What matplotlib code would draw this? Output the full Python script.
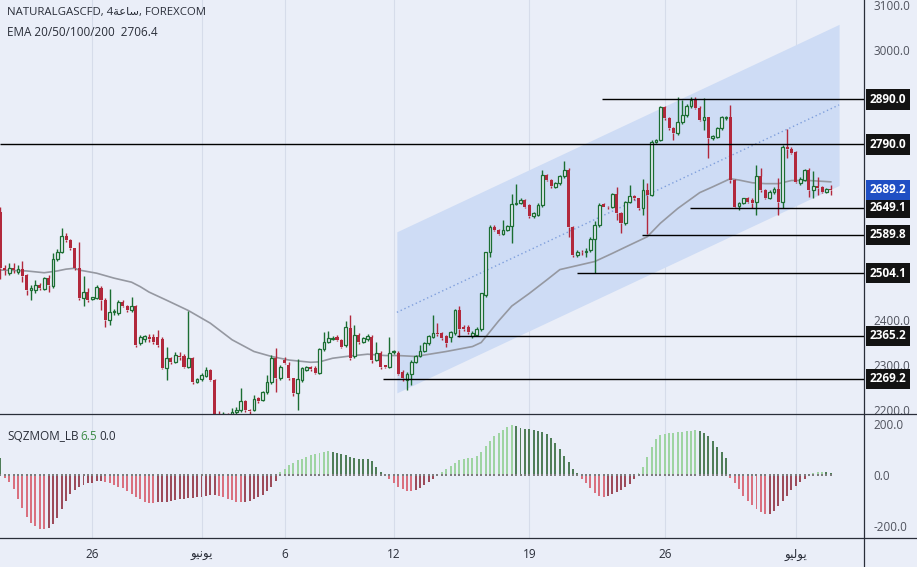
import matplotlib
matplotlib.use("Agg")
import matplotlib.pyplot as plt
import numpy as np
from matplotlib.lines import Line2D

plt.rcParams["font.family"] = ["Open Sans", "DejaVu Sans"]

# ---------------------------------------------------------------------------
# Data (4h candles)
# ---------------------------------------------------------------------------
opens = [2640, 2515, 2505, 2515, 2507, 2513, 2500, 2467, 2467, 2478,
         2469, 2493, 2476, 2535, 2552, 2587, 2578, 2559, 2515, 2448,
         2463, 2446, 2448, 2470, 2444, 2400, 2417, 2415, 2441, 2432,
         2422, 2431, 2348, 2357, 2362, 2363, 2362, 2358, 2293, 2315,
         2307, 2320, 2320, 2296, 2316, 2263, 2268, 2276, 2289, 2267,
         2192, 2186, 2190, 2184, 2196, 2200, 2219, 2200, 2200, 2226,
         2222, 2239, 2263, 2315, 2270, 2311, 2300, 2270, 2237, 2267,
         2289, 2295, 2293, 2283, 2335, 2352, 2357, 2363, 2356, 2344,
         2382, 2319, 2367, 2352, 2357, 2363, 2311, 2326, 2299, 2296,
         2328, 2326, 2285, 2267, 2281, 2307, 2320, 2330, 2348, 2363,
         2372, 2370, 2364, 2363, 2370, 2422, 2384, 2385, 2364, 2367,
         2379, 2456, 2550, 2607, 2600, 2591, 2600, 2609, 2658, 2661,
         2666, 2655, 2630, 2633, 2656, 2722, 2711, 2696, 2704, 2719,
         2733, 2607, 2545, 2552, 2550, 2556, 2581, 2611, 2658, 2652,
         2650, 2681, 2637, 2615, 2663, 2676, 2670, 2648, 2689, 2678,
         2796, 2800, 2874, 2848, 2826, 2815, 2840, 2856, 2876, 2889,
         2872, 2845, 2850, 2804, 2807, 2826, 2848, 2850, 2711, 2653,
         2661, 2670, 2667, 2663, 2720, 2689, 2672, 2685, 2692, 2663,
         2785, 2781, 2774, 2704, 2711, 2733, 2689, 2698, 2695, 2685,
         2692]
highs = [2650, 2522, 2527, 2527, 2522, 2530, 2503, 2478, 2489, 2482,
         2495, 2500, 2548, 2557, 2605, 2593, 2580, 2560, 2574, 2498,
         2470, 2452, 2478, 2475, 2448, 2468, 2425, 2444, 2445, 2434,
         2450, 2433, 2366, 2367, 2368, 2368, 2378, 2362, 2341, 2318,
         2328, 2328, 2325, 2419, 2318, 2270, 2282, 2296, 2291, 2268,
         2198, 2195, 2194, 2204, 2206, 2249, 2222, 2203, 2233, 2228,
         2242, 2278, 2322, 2337, 2300, 2318, 2306, 2272, 2313, 2296,
         2298, 2297, 2297, 2337, 2374, 2376, 2365, 2366, 2358, 2398,
         2411, 2389, 2370, 2363, 2368, 2366, 2350, 2330, 2301, 2363,
         2333, 2330, 2288, 2285, 2310, 2322, 2345, 2350, 2367, 2411,
         2393, 2374, 2366, 2376, 2424, 2431, 2388, 2388, 2375, 2384,
         2461, 2552, 2611, 2610, 2602, 2622, 2612, 2681, 2702, 2670,
         2669, 2657, 2640, 2660, 2733, 2724, 2713, 2707, 2722, 2754,
         2737, 2609, 2556, 2556, 2560, 2585, 2619, 2660, 2661, 2654,
         2683, 2696, 2640, 2665, 2700, 2678, 2672, 2713, 2704, 2800,
         2803, 2876, 2876, 2850, 2829, 2896, 2889, 2880, 2896, 2896,
         2876, 2893, 2852, 2812, 2829, 2853, 2853, 2878, 2713, 2663,
         2672, 2674, 2670, 2744, 2737, 2692, 2688, 2696, 2715, 2789,
         2824, 2784, 2776, 2718, 2735, 2737, 2730, 2717, 2698, 2693,
         2700]
lows = [2490, 2500, 2500, 2504, 2503, 2485, 2456, 2444, 2460, 2466,
        2466, 2463, 2470, 2530, 2548, 2574, 2556, 2512, 2444, 2430,
        2440, 2444, 2446, 2422, 2385, 2389, 2410, 2412, 2428, 2418,
        2418, 2340, 2345, 2352, 2352, 2346, 2341, 2290, 2267, 2303,
        2305, 2310, 2293, 2293, 2258, 2260, 2265, 2274, 2265, 2180,
        2180, 2178, 2176, 2180, 2190, 2195, 2195, 2190, 2197, 2216,
        2220, 2236, 2258, 2241, 2266, 2302, 2266, 2232, 2200, 2263,
        2286, 2287, 2280, 2280, 2330, 2348, 2355, 2353, 2338, 2340,
        2312, 2315, 2346, 2348, 2354, 2304, 2308, 2292, 2293, 2293,
        2325, 2278, 2265, 2244, 2256, 2305, 2318, 2328, 2345, 2360,
        2365, 2355, 2340, 2350, 2367, 2362, 2375, 2368, 2360, 2364,
        2376, 2452, 2540, 2597, 2588, 2589, 2598, 2572, 2655, 2657,
        2649, 2627, 2627, 2630, 2652, 2708, 2694, 2694, 2700, 2716,
        2585, 2540, 2541, 2544, 2540, 2552, 2504, 2607, 2650, 2647,
        2648, 2622, 2593, 2612, 2660, 2667, 2644, 2633, 2590, 2675,
        2793, 2798, 2845, 2822, 2801, 2812, 2835, 2852, 2872, 2868,
        2842, 2822, 2761, 2800, 2804, 2822, 2845, 2705, 2648, 2645,
        2658, 2660, 2648, 2633, 2685, 2668, 2669, 2681, 2633, 2648,
        2760, 2768, 2704, 2700, 2708, 2674, 2670, 2678, 2682, 2683,
        2678]
closes = [2515, 2512, 2516, 2510, 2514, 2498, 2467, 2471, 2478, 2470,
          2493, 2478, 2535, 2552, 2587, 2578, 2559, 2515, 2448, 2463,
          2444, 2450, 2473, 2444, 2400, 2417, 2419, 2441, 2431, 2422,
          2431, 2345, 2362, 2364, 2358, 2350, 2344, 2293, 2315, 2307,
          2322, 2318, 2296, 2315, 2263, 2268, 2278, 2289, 2267, 2190,
          2186, 2190, 2184, 2196, 2200, 2219, 2200, 2197, 2224, 2219,
          2239, 2263, 2315, 2270, 2296, 2305, 2270, 2237, 2268, 2293,
          2295, 2290, 2283, 2335, 2352, 2359, 2361, 2356, 2341, 2385,
          2315, 2367, 2350, 2359, 2364, 2311, 2326, 2296, 2296, 2326,
          2330, 2281, 2270, 2281, 2307, 2320, 2332, 2348, 2364, 2372,
          2369, 2359, 2348, 2374, 2422, 2381, 2379, 2374, 2372, 2381,
          2459, 2550, 2607, 2600, 2591, 2600, 2609, 2658, 2661, 2666,
          2652, 2630, 2638, 2656, 2722, 2711, 2698, 2704, 2719, 2733,
          2607, 2545, 2552, 2550, 2553, 2581, 2611, 2656, 2652, 2650,
          2681, 2637, 2615, 2663, 2675, 2670, 2648, 2689, 2678, 2796,
          2800, 2874, 2848, 2826, 2815, 2840, 2856, 2876, 2889, 2872,
          2845, 2852, 2804, 2809, 2826, 2850, 2851, 2711, 2652, 2661,
          2670, 2663, 2659, 2720, 2689, 2672, 2685, 2690, 2663, 2785,
          2781, 2772, 2707, 2713, 2733, 2689, 2698, 2693, 2685, 2690,
          2689.2]

# EMA line, read at a set of bars
ema_bar = [0, 6, 10, 13, 15, 17, 18, 22, 26, 30, 32, 34, 38, 43, 48, 53, 58,
           62, 66, 71, 73, 76, 80, 84, 88, 91, 95, 102, 108, 110, 114, 117,
           121, 125, 128, 132, 136, 140, 143, 148, 151, 155, 160, 163, 167,
           169, 172, 175, 178, 181, 185, 190]
ema_val = [2511, 2509, 2505, 2509, 2513, 2515, 2511, 2504, 2493, 2484, 2474,
           2462, 2444, 2421, 2393, 2356, 2330, 2319, 2311, 2306, 2307, 2315,
           2320, 2324, 2321, 2321, 2319, 2330, 2341, 2350, 2398, 2431, 2459,
           2489, 2512, 2521, 2530, 2548, 2562, 2585, 2615, 2648, 2683, 2696,
           2714, 2711, 2705, 2703, 2703, 2710, 2710, 2707]

# Squeeze momentum histogram, one value per candle
momentum = [65, -12, -28, -55, -92, -130, -165, -188, -200, -208,
            -211, -206, -192, -168, -132, -100, -74, -58, -46, -39,
            -33, -30, -25, -22, -26, -32, -39, -45, -52, -63,
            -74, -84, -94, -103, -107, -108, -106, -105, -103, -101,
            -98, -95, -93, -91, -89, -87, -84, -81, -78, -77,
            -80, -86, -93, -99, -104, -106, -105, -101, -95, -87,
            -76, -62, -46, -25, 12, 25, 38, 48, 57, 64,
            70, 76, 81, 86, 90, 92, 89, 85, 81, 76,
            70, 65, 63, 62, 62, 55, 30, 12, -5, -15,
            -30, -45, -55, -62, -63, -60, -52, -40, -28, -14,
            -4, 10, 22, 35, 48, 58, 62, 65, 67, 72,
            90, 112, 132, 150, 163, 175, 186, 193, 190, 184,
            179, 178, 174, 171, 168, 160, 145, 125, 100, 75,
            50, 25, 8, -15, -32, -50, -68, -80, -85, -82,
            -74, -66, -60, -48, -35, -15, 8, 30, 70, 110,
            140, 156, 160, 163, 165, 167, 168, 170, 172, 175,
            172, 165, 150, 132, 110, 88, 65, -10, -30, -55,
            -80, -100, -118, -134, -145, -153, -152, -140, -122, -100,
            -80, -60, -42, -28, -14, 4, 8, 11, 12, 10,
            6.5]

# Horizontal levels drawn by hand: price and first bar
levels = [2890.0, 2790.0, 2649.1, 2589.8, 2504.1, 2365.2, 2269.2]
level_start = [137.6, -1, 157.8, 146.8, 131.9, 104.5, 87.5]
last_price = 2689.2

# Regression channel: first/last bar, centre price at each end, half width
chan_bars = [90.7, 191.9]
chan_mid = [2417, 2878]
chan_half = 179

# Date axis
tick_bars = [21, 46, 65, 90, 121, 152, 182]
tick_labels = ["26", "\ufeee\ufef4\ufee7\ufeee\ufef3", "6", "12", "19", "26",
               "\ufeee\ufef4\ufedf\ufeee\ufef3"]

# ---------------------------------------------------------------------------
# Style
# ---------------------------------------------------------------------------
BG = "#eaeef8"
CHAN = "#cedcf5"
UP = "#1b6e32"
DOWN = "#b2283c"
TXT = "#2a2e39"
AX_TXT = "#50535e"
GRID = "#d6dcea"

W, H = 917, 567
fig = plt.figure(figsize=(W / 100, H / 100), dpi=100, facecolor=BG)
ax = fig.add_axes([0, 1 - 414 / H, 864 / W, 414 / H])
axm = fig.add_axes([0, 1 - 538 / H, 864 / W, 124 / H], sharex=ax)

for a in (ax, axm):
    a.set_facecolor(BG)
    for s in a.spines.values():
        s.set_visible(False)
    a.set_xticks(tick_bars)
    a.grid(axis="x", color=GRID, linewidth=0.8, zorder=0)
    a.set_axisbelow(True)
    a.yaxis.tick_right()
    a.tick_params(axis="both", length=0, colors=AX_TXT, labelsize=8.5)

ax.set_xlim(-0.11, 197.6)
ax.set_ylim(2191.1, 3111.1)
axm.set_ylim(-244.7, 236.9)

# ---------------------------------------------------------------------------
# Main pane
# ---------------------------------------------------------------------------
x = np.arange(len(closes))
o = np.array(opens, float)
h = np.array(highs, float)
l = np.array(lows, float)
c = np.array(closes, float)
up = c >= o
top = np.maximum(o, c)
bot = np.minimum(o, c)
body = np.maximum(top - bot, 1.5)
cols = np.where(up, UP, DOWN)

cb = np.array(chan_bars)
cm = np.array(chan_mid, float)
ax.fill_between(cb, cm - chan_half, cm + chan_half, color=CHAN, linewidth=0, zorder=1)
ax.plot(cb, cm, color="#7f9fdc", linewidth=1, linestyle=(0, (1, 2)), zorder=1.5)

ax.plot(ema_bar, ema_val, color="#9598a1", linewidth=1.2, zorder=2)

ax.vlines(x, top, h, colors=cols, linewidth=1, zorder=3)
ax.vlines(x, l, bot, colors=cols, linewidth=1, zorder=3)
ax.bar(x[~up], body[~up], bottom=bot[~up], width=0.7, color=DOWN, linewidth=0, zorder=3)
ax.bar(x[up], body[up], bottom=bot[up], width=0.62, facecolor=BG, edgecolor=UP,
       linewidth=0.9, zorder=3)

xmin, xmax = ax.get_xlim()
for lv, st in zip(levels, level_start):
    ax.hlines(lv, max(st, xmin), xmax, color="black", linewidth=1, zorder=4)

ax.set_yticks(np.arange(2200, 3101, 100))
ax.set_yticklabels([f"{v:.1f}" for v in np.arange(2200, 3101, 100)])
ax.tick_params(axis="y", pad=7)
ax.tick_params(axis="x", labelbottom=False)

ytr = ax.get_yaxis_transform()
for lv in levels:
    ax.text(1.0064, lv, f"{lv:.1f}", transform=ytr, ha="left", va="center",
            color="white", fontsize=8.5, fontweight="bold", zorder=10, clip_on=False,
            bbox=dict(boxstyle="square,pad=0.3", fc="#131313", ec="none"))
ax.text(1.0064, last_price, f"{last_price:.1f}", transform=ytr, ha="left", va="center",
        color="white", fontsize=8.5, fontweight="bold", zorder=11, clip_on=False,
        bbox=dict(boxstyle="square,pad=0.3", fc="#1f4fc4", ec="none"))

# ---------------------------------------------------------------------------
# Momentum pane
# ---------------------------------------------------------------------------
m = np.array(momentum, float)
prev = np.concatenate([[m[0]], m[:-1]])
mcols = np.where(m >= 0,
                 np.where(m > prev, "#9fd4a2", "#4f7d58"),
                 np.where(m < prev, "#d9707f", "#9c4b5a"))
axm.bar(x, m, width=0.45, color=mcols, linewidth=0, zorder=2)
axm.scatter(x, np.zeros_like(m), marker="s", s=4.5, color="#7d7d7d", linewidths=0, zorder=3)

axm.set_yticks([-200, 0, 200])
axm.set_yticklabels(["-200.0", "0.0", "200.0"])
axm.tick_params(axis="y", pad=7)
axm.set_xticklabels(tick_labels)
axm.tick_params(axis="x", pad=7, labelcolor=TXT, labelsize=8.5)

# pane separators and price-scale border
for yy in (1 - 414 / H, 1 - 538 / H):
    fig.add_artist(Line2D([0, 1], [yy, yy], transform=fig.transFigure,
                          color="#2a2e39", linewidth=0.9))
fig.add_artist(Line2D([864 / W, 864 / W], [0, 1], transform=fig.transFigure,
                      color="#2a2e39", linewidth=0.9))

# ---------------------------------------------------------------------------
# Legends
# ---------------------------------------------------------------------------
fig.text(7 / W, 1 - 13 / H, "NATURALGASCFD, 4\ufe94\ufecb\ufe8e\ufeb3, FOREXCOM",
         fontsize=8.2, color=TXT, va="center")
fig.text(7 / W, 1 - 33 / H, "EMA 20/50/100/200  2706.4", fontsize=8.5, color=TXT, va="center")
fig.text(7 / W, 1 - 436 / H, "SQZMOM_LB", fontsize=8.5, color=TXT, va="center")
fig.text(80 / W, 1 - 436 / H, "6.5", fontsize=8.5, color="#3d8b46", va="center")
fig.text(99 / W, 1 - 436 / H, "0.0", fontsize=8.5, color=TXT, va="center")

fig.savefig("out.png", dpi=100, facecolor=BG)
